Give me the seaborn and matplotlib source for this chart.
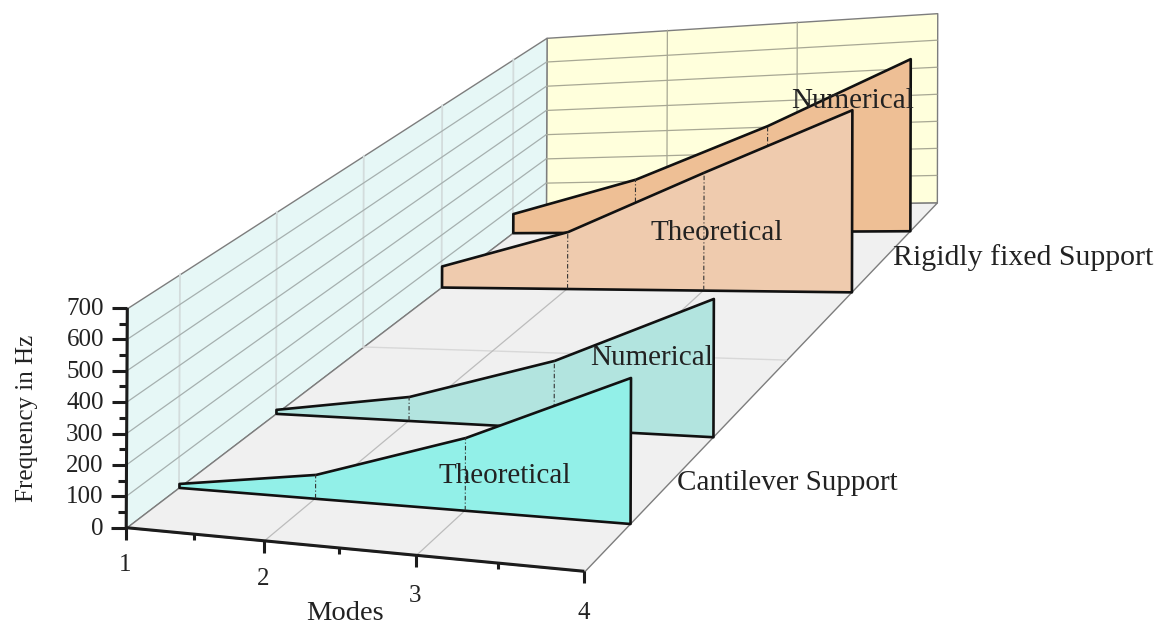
import numpy as np
import pandas as pd
import seaborn as sns
import matplotlib
matplotlib.use("Agg")
import matplotlib.pyplot as plt
from matplotlib.lines import Line2D
from mpl_toolkits.mplot3d.art3d import Poly3DCollection

# Natural frequencies per mode and support case
modes = [1, 2, 3, 4]
cantilever_theoretical = [13, 75, 218, 416]
cantilever_numerical = [14, 80, 216, 420]
rigid_theoretical = [81, 211, 420, 622]
rigid_numerical = [77, 206, 397, 620]

series_names = ["Theoretical", "Numerical", "Theoretical", "Numerical"]
series_depth = [1, 2, 4, 5]
series_colors = ["#92F0E8", "#B2E4DF", "#EFCBAE", "#EEBF95"]

freq_ticks = [0, 100, 200, 300, 400, 500, 600, 700]
depth_grid = [1, 2, 3, 4, 5]
mode_grid = [2, 3]
X_LIM = (1, 4)
Y_LIM = (0.5, 5.5)
Z_LIM = (0, 700)

# Camera calibration: box landmarks (mode, depth, frequency) and their canvas pixels
camera_world = np.array([
    (1, .5, 0), (2, .5, 0), (3, .5, 0), (4, .5, 0), (1, .5, 700),
    (1, 5.5, 700), (4, 5.5, 700), (4, 5.5, 0),
    (1, 1, 0), (4, 1, 0), (1, 2, 0), (4, 2, 0),
    (1, 4, 0), (4, 4, 0), (1, 5, 0), (4, 5, 0),
], dtype=float)
camera_canvas = np.array([
    (127, 527), (265, 541), (416, 555), (585, 572), (127, 308),
    (547, 38), (937, 13), (937, 203),
    (178, 488), (630, 523), (276, 413), (713, 437),
    (441, 288), (851, 292), (513, 232), (910, 230),
], dtype=float)


def fit_camera(world, canvas):
    """Least-squares 3x4 perspective camera, with frequency scaled for conditioning."""
    rows, rhs = [], []
    for (x, y, z), (u, v) in zip(world, canvas):
        rows.append([x, y, z, 1, 0, 0, 0, 0, -u * x, -u * y, -u * z])
        rhs.append(u)
        rows.append([0, 0, 0, 0, x, y, z, 1, -v * x, -v * y, -v * z])
        rhs.append(v)
    scale = np.array([1, 1, 1e-2, 1, 1, 1, 1e-2, 1, 1e-3, 1e-3, 1e-5])
    sol = np.linalg.lstsq(np.array(rows) * scale, np.array(rhs), rcond=None)[0]
    return np.append(sol * scale, 1.0).reshape(3, 4)


P = fit_camera(camera_world, camera_canvas)
M = np.vstack([P[0], P[1], [0, 1, 0, 0], P[2]])


def to_px(x, y, z):
    u, v, w = P @ np.array([x, y, z, 1.0])
    return u / w, v / w


sns.set_theme(style="white", font="Liberation Serif")
plt.rcParams["font.family"] = ["Liberation Serif", "DejaVu Sans"]

W, H = 1158, 625
fig = plt.figure(figsize=(W / 100, H / 100), dpi=100, facecolor="white")
# The orthographic flag only turns off mplot3d's unit-cube clipping; the camera is P
ax = fig.add_axes([0, 0, 1, 1], projection="3d", computed_zorder=False, proj_type="ortho")
ax.set_autoscale_on(False)
ax.set_xlim3d(*X_LIM)
ax.set_ylim3d(*Y_LIM)
ax.set_zlim3d(*Z_LIM)
ax.set_axis_off()
ax.patch.set_visible(False)
ax.get_proj = lambda: M
ax.apply_aspect = lambda position=None: None
ax.viewLim.set_points(np.array([[0.0, float(H)], [float(W), 0.0]]))

x0, x1 = X_LIM
y0, y1 = Y_LIM
z0, z1 = Z_LIM


def pane(corners, color, zorder):
    ax.add_collection3d(Poly3DCollection([corners], facecolors=color, edgecolors="#7d7d7d",
                                         linewidths=1.0, zorder=zorder), autolim=False)


pane([(x0, y1, z0), (x1, y1, z0), (x1, y1, z1), (x0, y1, z1)], "#FFFFDC", 1)
pane([(x0, y0, z0), (x0, y1, z0), (x0, y1, z1), (x0, y0, z1)], "#E6F7F6", 1)
pane([(x0, y0, z0), (x1, y0, z0), (x1, y1, z0), (x0, y1, z0)], "#F0F0F0", 1)

grid_kw = dict(lw=0.9, zorder=2)
for y in depth_grid:
    ax.plot([x0, x0], [y, y], [z0, z1], color="#d3dcdc", lw=1.3, zorder=2)
    ax.plot([x0, x1], [y, y], [z0, z0], color="#d8d8d8", lw=1.0, zorder=2)
for x in mode_grid:
    ax.plot([x, x], [y1, y1], [z0, z1], color="#a8a894", **grid_kw)
    ax.plot([x, x], [y0, y1], [z0, z0], color="#bcbcbc", **grid_kw)
for z in freq_ticks[1:-1]:
    ax.plot([x0, x1], [y1, y1], [z, z], color="#a8a894", **grid_kw)
    ax.plot([x0, x0], [y0, y1], [z, z], color="#a6b0af", **grid_kw)

# Walls, drawn from the back row to the front row
frequencies = pd.DataFrame({
    "mode": modes,
    "c_theo": cantilever_theoretical,
    "c_num": cantilever_numerical,
    "r_theo": rigid_theoretical,
    "r_num": rigid_numerical,
})
columns = ["c_theo", "c_num", "r_theo", "r_num"]
palette = sns.color_palette(series_colors)
for idx in [3, 2, 1, 0]:
    col, depth = columns[idx], series_depth[idx]
    values = frequencies[col].to_numpy()
    z_base = 10 + (3 - idx) * 2
    outline = [(m, depth, v) for m, v in zip(modes, values)]
    outline += [(modes[-1], depth, 0), (modes[0], depth, 0)]
    ax.add_collection3d(Poly3DCollection([outline], facecolors=[palette[idx]], edgecolors="#111111",
                                         linewidths=1.9, zorder=z_base), autolim=False)
    for m, v in zip(modes[1:-1], values[1:-1]):
        ax.plot([m, m], [depth, depth], [0, v], color="#333333", lw=0.8, ls=(0, (4, 2, 1, 2)),
                zorder=z_base + 0.5)

# Axis lines and ticks, offset in canvas pixels from the axis positions
axis_kw = dict(color="#1c1c1c", solid_capstyle="butt", zorder=30)


def seg(p, q, lw=2.2):
    ax.add_artist(Line2D([p[0], q[0]], [p[1], q[1]], lw=lw, **axis_kw))


seg(to_px(x0, y0, z1), to_px(x0, y0, z0))
seg(to_px(x0, y0, z0), to_px(x1, y0, z0))
for z in freq_ticks:
    u, v = to_px(x0, y0, z)
    seg((u - 15, v), (u, v))
    ax.annotate(str(z), (u - 23, v + 1), ha="right", va="center", fontsize=18, color="#222222", zorder=31)
for z in np.array(freq_ticks[:-1]) + 50:
    u, v = to_px(x0, y0, z)
    seg((u - 8, v), (u, v))
for m in modes:
    u, v = to_px(m, y0, 0)
    seg((u, v), (u, v + 12))
    ax.annotate(str(m), (u - 1, v + 37 + (m - 1) * 1.6), ha="center", va="center", fontsize=18,
                color="#222222", zorder=31)
for m in np.array(modes[:-1]) + 0.5:
    u, v = to_px(m, y0, 0)
    seg((u, v), (u, v + 6))

# Axis titles and row captions
caption_kw = dict(ha="center", va="center", color="#222222", zorder=31)
ax.annotate("Modes", (345, 614), fontsize=20.5, **caption_kw)
ax.annotate("Frequency in Hz", (27, 418), rotation=90, fontsize=18, **caption_kw)
ax.annotate("Cantilever Support", (787, 483), fontsize=21, **caption_kw)
ax.annotate("Rigidly fixed Support", (1023, 258), fontsize=21.5, **caption_kw)
for name, pos in zip(series_names, [(505, 476), (652, 358), (717, 233), (853, 101)]):
    ax.annotate(name, pos, fontsize=21, **caption_kw)

fig.savefig("out.png", dpi=100)
